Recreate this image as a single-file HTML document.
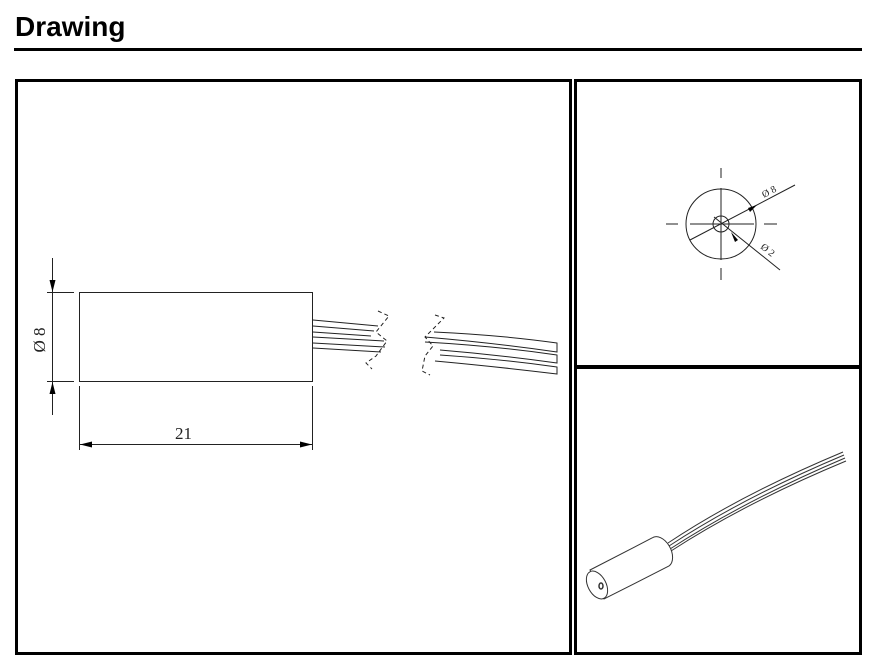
<!DOCTYPE html>
<html><head><meta charset="utf-8"><style>
html,body{margin:0;padding:0;background:#fff;width:875px;height:661px;overflow:hidden}
svg{display:block}
</style></head><body>
<svg width="875" height="661" viewBox="0 0 875 661" xmlns="http://www.w3.org/2000/svg">
<text x="15" y="36" font-family="Liberation Sans, sans-serif" font-weight="bold" font-size="28" fill="#000">Drawing</text>
<rect x="14" y="48" width="848" height="3" fill="#000"/>
<rect x="16.5" y="80.5" width="554" height="573" fill="none" stroke="#000" stroke-width="3"/>
<rect x="575.5" y="80.5" width="285" height="573" fill="none" stroke="#000" stroke-width="3"/>
<rect x="575" y="365" width="287" height="4" fill="#000"/>
<g stroke="#222" stroke-width="1" fill="none">
<rect x="79.5" y="292.5" width="233" height="89"/>
<line x1="47" y1="292.5" x2="74" y2="292.5"/>
<line x1="47" y1="381.5" x2="74" y2="381.5"/>
<line x1="52.5" y1="258" x2="52.5" y2="415"/>
<line x1="79.5" y1="386" x2="79.5" y2="450"/>
<line x1="312.5" y1="386" x2="312.5" y2="450"/>
<line x1="80" y1="444.5" x2="312" y2="444.5"/>
<path d="M313 320 L378 326 M313 326 L374 331 M313 332 L371 336 M313 337 L384 341 M313 343 L385 347 M313 348 L381 352"/>
<path d="M378 311 L389 316 L376 332 L387 341 L376 356 L366 363 L372 369" stroke-dasharray="4,3"/>
<path d="M434 332 Q500 335 557 343 L557 352 Q495 343 425 337 M425 342 Q495 346 557 355 L557 363 Q500 355 440 350 M440 355 Q500 359 557 367 L557 374 Q500 367 435 361"/>
<path d="M435 315 L444 318 L430 332 L425 337 L433 346 L425 356 L422 371 L430 375" stroke-dasharray="4,3"/>
</g>
<polygon points="52.5,292 49.5,280 55.5,280" fill="#000"/>
<polygon points="52.5,382 49.5,394 55.5,394" fill="#000"/>
<polygon points="80,444.5 92,441.5 92,447.5" fill="#000"/>
<polygon points="312,444.5 300,441.5 300,447.5" fill="#000"/>
<text x="175" y="439" font-family="Liberation Serif, serif" font-size="17" fill="#222">21</text>
<text transform="translate(45,340) rotate(-90)" text-anchor="middle" font-family="Liberation Serif, serif" font-size="17" fill="#222">Ø 8</text>
<g stroke="#222" stroke-width="1" fill="none">
<circle cx="721" cy="224" r="35"/>
<circle cx="721" cy="224" r="8"/>
<path d="M721 168 V178 M721 188 V260 M721 268 V280 M666 224 H678 M690 224 H754 M764 224 H777"/>
<path d="M690 240 L795 185"/>
<path d="M714 217 L780 270"/>
</g>
<polygon points="757,205 748,208 750,212" fill="#000"/>
<polygon points="731,232 738,240 735,242" fill="#000"/>
<text transform="translate(764,198) rotate(-28)" font-family="Liberation Serif, serif" font-size="10" fill="#222">Ø 8</text>
<text transform="translate(760,248) rotate(38)" font-family="Liberation Serif, serif" font-size="10" fill="#222">Ø 2</text>
<g stroke="#333" fill="none" stroke-width="1">
<path d="M668 543 Q740 495 843 452"/>
<path d="M669 546 Q742 498 844 455"/>
<path d="M670 549 Q744 501 845 458"/>
<path d="M671 551 Q745 503 846 461"/>
</g>
<g stroke="#333" stroke-width="1" fill="#fff">
<path d="M590 570 L652 538 A9 14 -28 0 1 669 566 L604 599 Z"/>
<ellipse cx="597" cy="585" rx="9" ry="15" transform="rotate(-28 597 585)"/>
</g>
<ellipse cx="601" cy="586" rx="2" ry="3" fill="none" stroke="#333" stroke-width="1.5"/>
</svg>
</body></html>
